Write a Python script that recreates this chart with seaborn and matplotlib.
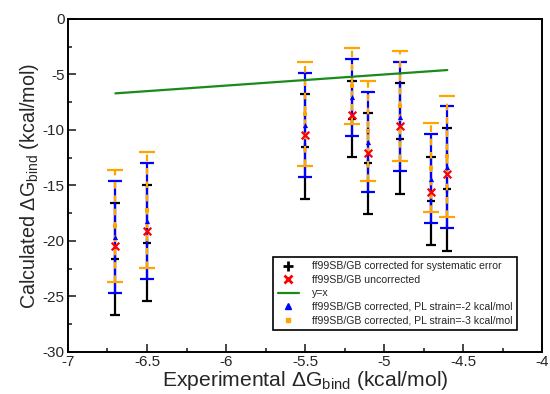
import numpy as np
import pandas as pd
import matplotlib
matplotlib.use("Agg")
import matplotlib.pyplot as plt
import seaborn as sns
from matplotlib.ticker import MultipleLocator
from matplotlib.lines import Line2D

# ---- data ----
exp_dg = [-6.7, -6.5, -5.5, -5.2, -5.1, -4.9, -4.7, -4.6]
corrected = [-21.65, -20.2, -11.5, -9.0, -13.0, -10.8, -16.4, -15.35]
corrected_err = [5.05, 5.25, 4.7, 3.45, 4.55, 5.0, 4.0, 5.55]
uncorrected = [-20.45, -19.1, -10.45, -8.65, -12.05, -9.65, -15.55, -14.0]
strain2 = [-19.65, -18.2, -9.55, -7.05, -11.05, -8.8, -14.4, -13.35]
strain2_err = [5.05, 5.2, 4.65, 3.45, 4.5, 4.9, 4.0, 5.5]
strain3 = [-18.65, -17.2, -8.55, -6.05, -10.05, -7.8, -13.4, -12.35]
strain3_err = [5.05, 5.2, 4.7, 3.45, 4.5, 4.95, 4.0, 5.45]
line_x = [-6.7, -4.6]
line_y = [-6.7, -4.6]

x_ticklabels = ["-7", "-6.5", "-6", "-5.5", "-5", "-4.5", "-4"]
y_ticklabels = ["-30", "-25", "-20", "-15", "-10", "-5", "0"]

legend_labels = [
    "ff99SB/GB corrected for systematic error",
    "ff99SB/GB uncorrected",
    "y=x",
    "ff99SB/GB corrected, PL strain=-2 kcal/mol",
    "ff99SB/GB corrected, PL strain=-3 kcal/mol",
]

df = pd.DataFrame({
    "exp": exp_dg, "corr": corrected, "corr_err": corrected_err,
    "unc": uncorrected, "s2": strain2, "s2_err": strain2_err,
    "s3": strain3, "s3_err": strain3_err,
})
line_df = pd.DataFrame({"x": line_x, "y": line_y})

sns.set_style("ticks")
plt.rcParams["font.family"] = ["Liberation Sans", "DejaVu Sans"]
plt.rcParams["mathtext.fontset"] = "custom"
plt.rcParams["mathtext.rm"] = "Liberation Sans"
plt.rcParams["mathtext.it"] = "Liberation Sans:italic"

BLACK = "#000000"
RED = "#ff0000"
GREEN = "#1a8a1a"
BLUE = "#0000ff"
ORANGE = "#ffa500"

fig = plt.figure(figsize=(5.5, 3.94), dpi=100)
ax = fig.add_axes([0.1236, 0.1066, 0.8620, 0.8452])

# error bars
eb1 = ax.errorbar(df["exp"], df["corr"], yerr=df["corr_err"], fmt="none",
                  ecolor=BLACK, elinewidth=1.6, capsize=3.6, capthick=1.6, zorder=2)
sns.scatterplot(data=df, x="exp", y="corr", marker="+", s=40, color=BLACK,
                linewidth=1.6, ax=ax, zorder=2.5, legend=False)
eb2 = ax.errorbar(df["exp"], df["s2"], yerr=df["s2_err"], fmt="none",
                  ecolor=BLUE, elinewidth=1.6, capsize=5.0, capthick=1.6, zorder=3)
eb3 = ax.errorbar(df["exp"], df["s3"], yerr=df["s3_err"], fmt="none",
                  ecolor=ORANGE, elinewidth=1.6, capsize=6.0, capthick=1.6, zorder=4)
eb3[2][0].set_linestyle((0, (3, 3)))

# y = x line
sns.lineplot(data=line_df, x="x", y="y", color=GREEN, lw=1.6, ax=ax, zorder=5,
             legend=False)

# markers
sns.scatterplot(data=df, x="exp", y="s2", marker="^", s=14, color=BLUE,
                linewidth=0, ax=ax, zorder=7, legend=False)
sns.scatterplot(data=df, x="exp", y="s3", marker="s", s=12, color=ORANGE,
                linewidth=0, ax=ax, zorder=8, legend=False)
sns.scatterplot(data=df, x="exp", y="unc", marker="x", s=30, color=RED,
                linewidth=1.6, ax=ax, zorder=9, legend=False)

ax.set_xlim(-7, -4)
ax.set_ylim(-30, 0)
ax.set_xticks(np.arange(-7, -3.9, 0.5))
ax.set_xticklabels(x_ticklabels)
ax.set_yticks(np.arange(-30, 0.1, 5))
ax.set_yticklabels(y_ticklabels)
ax.xaxis.set_minor_locator(MultipleLocator(0.25))
ax.yaxis.set_minor_locator(MultipleLocator(2.5))
ax.tick_params(which="major", direction="in", length=5.5, width=1.2,
               labelsize=11, pad=2.5)
ax.tick_params(which="minor", direction="in", length=3, width=1.2)
for sp in ax.spines.values():
    sp.set_linewidth(1.4)
    sp.set_color("black")
    sp.set_visible(True)

ax.set_xlabel(r"Experimental $\Delta$G$_{\mathrm{bind}}$ (kcal/mol)", fontsize=15.2, labelpad=0)
ax.set_ylabel(r"Calculated $\Delta$G$_{\mathrm{bind}}$ (kcal/mol)", fontsize=14.2, labelpad=1)

handles = [
    Line2D([], [], ls="none", marker="+", ms=7, mew=2, color=BLACK),
    Line2D([], [], ls="none", marker="x", ms=5.5, mew=2, color=RED),
    Line2D([], [], color=GREEN, lw=1.6),
    Line2D([], [], ls="none", marker="^", ms=4, color=BLUE),
    Line2D([], [], ls="none", marker="s", ms=3.5, color=ORANGE),
]
leg = ax.legend(handles, legend_labels, loc="lower right",
                bbox_to_anchor=(0.947, 0.066), borderaxespad=0,
                fontsize=7.6, frameon=True, fancybox=False, framealpha=1,
                edgecolor="black", handlelength=2.0, handletextpad=1.2,
                labelspacing=0.33, borderpad=0.45)
leg.get_frame().set_linewidth(1.2)

fig.savefig("out.png", dpi=100)
